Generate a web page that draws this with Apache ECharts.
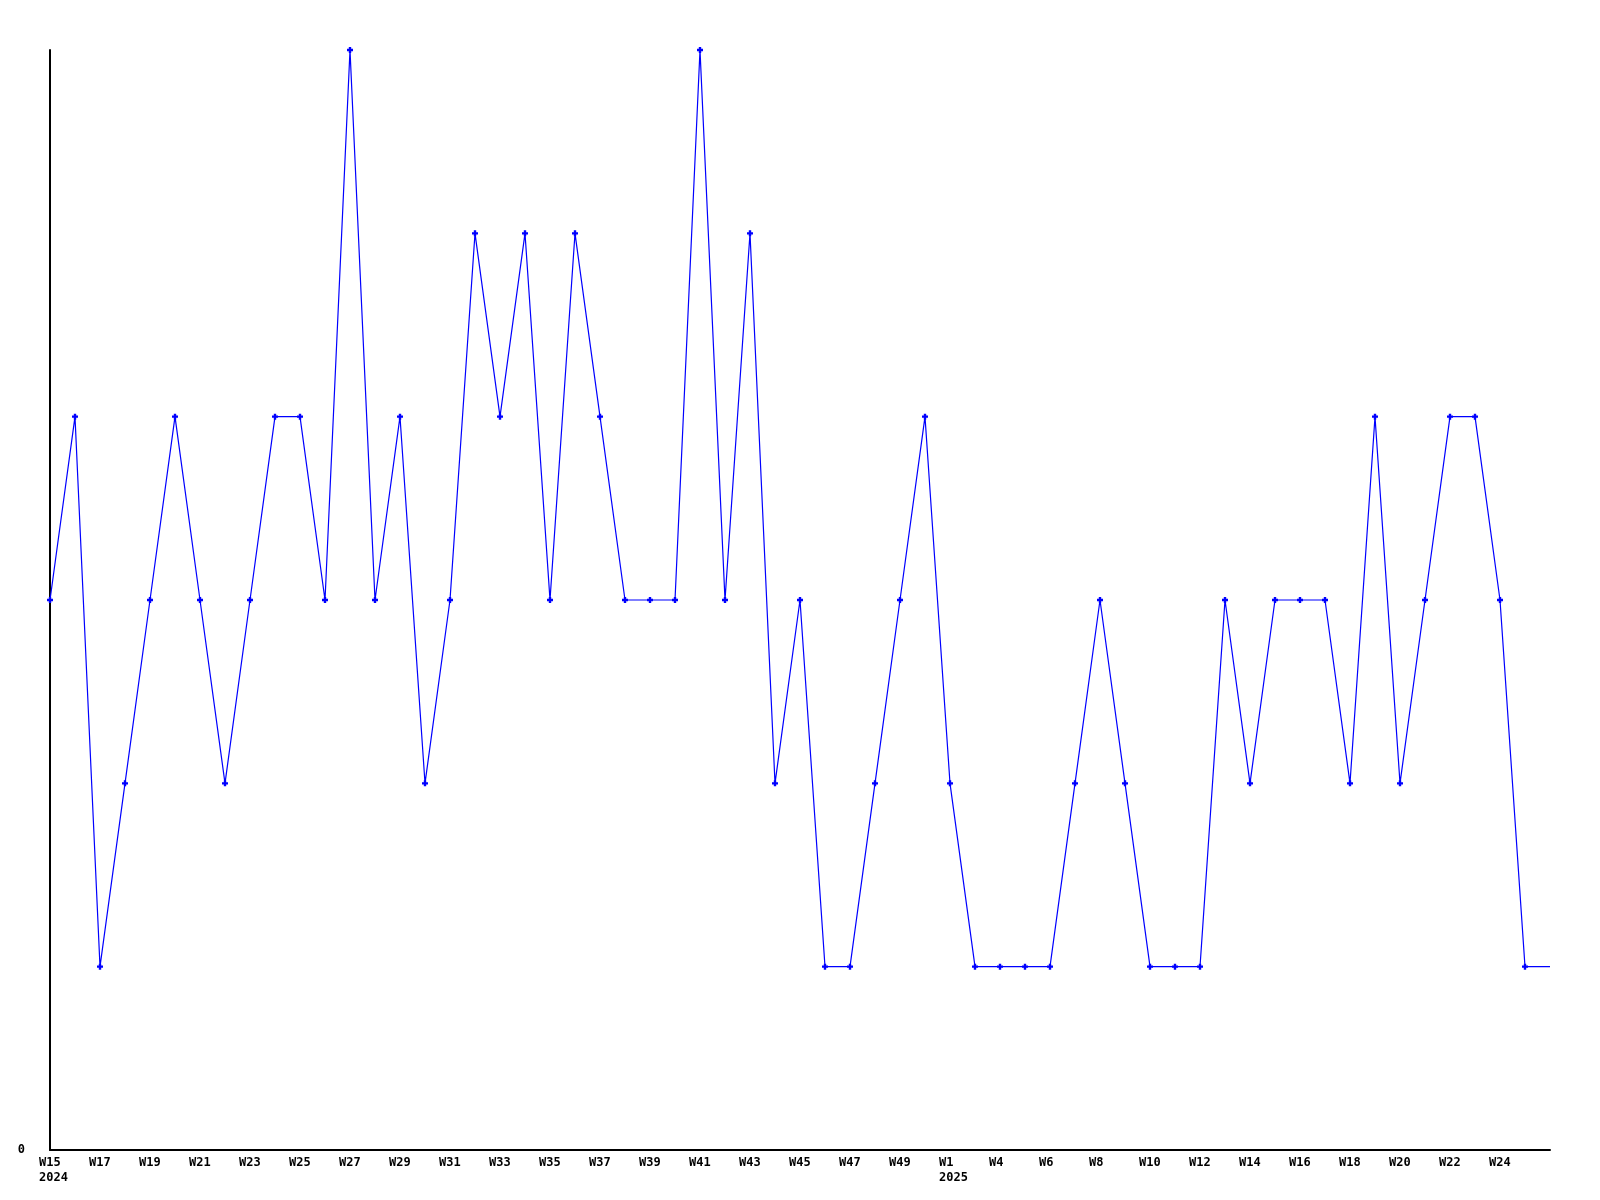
<!DOCTYPE html>
<html>
<head>
<meta charset="utf-8">
<script src="https://cdn.jsdelivr.net/npm/echarts@6/dist/echarts.min.js"></script>
<style>html,body{margin:0;padding:0;background:#fff;}#c{width:1600px;height:1200px;}</style>
</head>
<body>
<div id="c"></div>
<script>
// one point per week
const values = [3,4,1,2,3,4,3,2,3,4,4,3,6,3,4,2,3,5,4,5,3,5,4,3,3,3,6,3,5,2,3,1,1,2,3,4,2,1,1,1,1,2,3,2,1,1,1,3,2,3,3,3,2,4,2,3,4,4,3,1,1];
const categories = values.map((v, i) => 'P' + i);
// labels shown on every second category
const tickLabels = ['W15\n2024','W17','W19','W21','W23','W25','W27','W29','W31','W33','W35','W37','W39','W41','W43','W45','W47','W49',
  'W1\n2025','W4','W6','W8','W10','W12','W14','W16','W18','W20','W22','W24',''];
const yTickLabels = ['0'];

const chart = echarts.init(document.getElementById('c'), null, {renderer: 'canvas'});
const font = '"DejaVu Sans Mono", "Liberation Mono", monospace';
const lastIdx = values.length - 1;
chart.setOption({
  animation: false,
  backgroundColor: '#ffffff',
  grid: {left: 50, right: 50, top: 50, bottom: 50, containLabel: false},
  xAxis: {
    type: 'category',
    data: categories,
    boundaryGap: false,
    axisLine: {show: true, lineStyle: {color: '#000', width: 2}},
    axisTick: {show: false},
    splitLine: {show: false},
    axisLabel: {
      interval: 1,
      margin: 5,
      align: 'center',
      formatter: (val, idx) => {
        const t = tickLabels[Math.round(idx / 2)] || '';
        if (!t) return '';
        return t.split('\n').map(s => '{a|' + s + '}').join('\n');
      },
      rich: {
        a: {width: 22, align: 'left', fontFamily: font, fontWeight: 'bold', fontSize: 12, lineHeight: 15, color: '#000'}
      }
    }
  },
  yAxis: {
    type: 'value',
    min: 0, max: 6, interval: 6,
    axisLine: {show: true, lineStyle: {color: '#000', width: 2}},
    axisTick: {show: false},
    splitLine: {show: false},
    axisLabel: {
      margin: 25,
      fontFamily: font, fontWeight: 'bold', fontSize: 12, color: '#000',
      formatter: v => (v === 0 ? yTickLabels[0] : '')
    }
  },
  series: [{
    type: 'line',
    data: values.map((v, i) => i === lastIdx ? {value: v, symbol: 'none'} : v),
    symbol: 'path://M1.5,0 L3.5,0 L3.5,1.5 L5,1.5 L5,3.5 L3.5,3.5 L3.5,5 L1.5,5 L1.5,3.5 L0,3.5 L0,1.5 L1.5,1.5 Z',
    symbolSize: 6,
    showAllSymbol: true,
    lineStyle: {color: '#0000ff', width: 1.2},
    itemStyle: {color: '#0000ff'},
    clip: false
  }]
});
</script>
</body>
</html>
